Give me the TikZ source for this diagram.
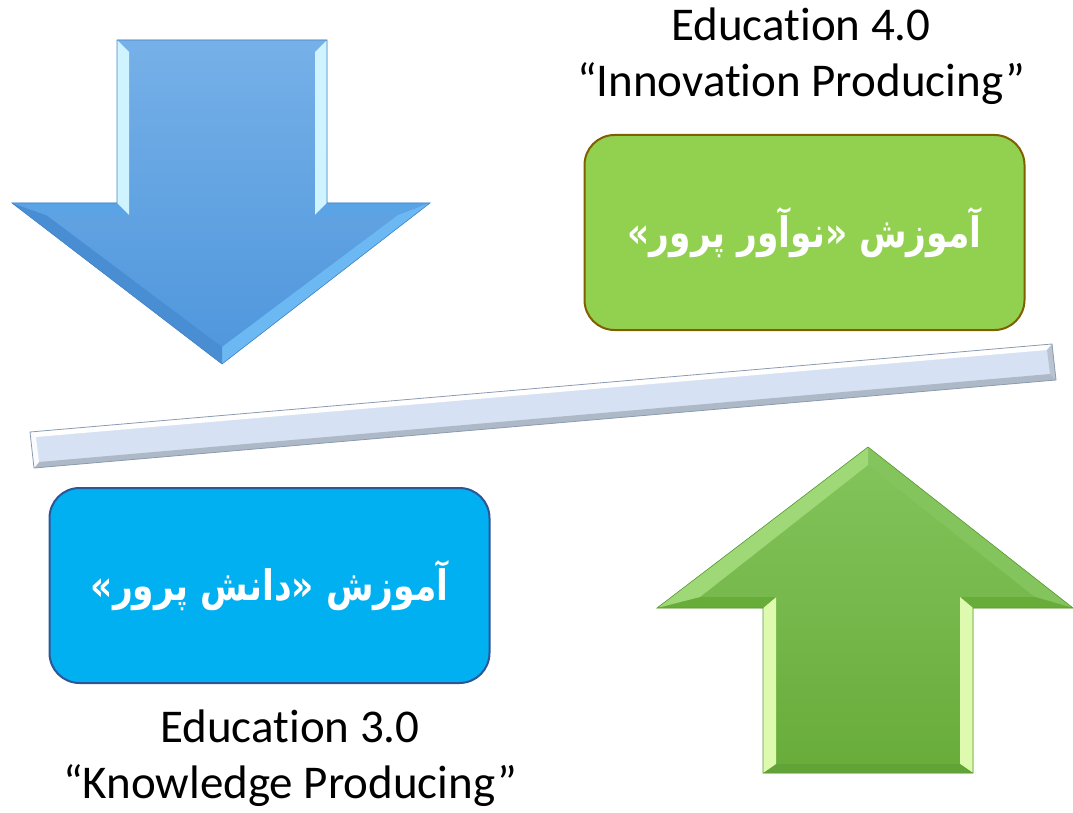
\documentclass[tikz,border=0pt]{standalone}
\usepackage{fontspec}
\setmainfont{Carlito}[Ligatures=NoCommon]
\newfontfamily\arabicfont[Script=Arabic,FakeStretch=0.82]{DejaVu Sans}
\TeXXeTstate=1

\definecolor{innogreen}{HTML}{92D050}
\definecolor{innoborder}{HTML}{7F6000}
\definecolor{knowblue}{HTML}{00B0F0}
\definecolor{knowborder}{HTML}{2F5597}
\definecolor{blueTop}{HTML}{76B0E8}
\definecolor{blueBot}{HTML}{4E96DC}
\definecolor{blueLite}{HTML}{CFF4FF}
\definecolor{blueMid}{HTML}{6CB8F2}
\definecolor{blueDark}{HTML}{4584C8}
\definecolor{greenTop}{HTML}{84C45C}
\definecolor{greenBot}{HTML}{68AC3A}
\definecolor{greenLite}{HTML}{DDFAAE}
\definecolor{greenMid}{HTML}{9ED877}
\definecolor{greenDark}{HTML}{5C9A34}
\definecolor{barFill}{HTML}{D6E2F3}
\definecolor{barEdge}{HTML}{8C9BB0}

\tikzstyle{stage}=[rounded corners=30pt,minimum width=440pt,minimum height=195pt,line width=2pt,text=white,font=\arabicfont\bfseries\fontsize{42}{50}\selectfont]
\tikzstyle{caption}=[align=center,anchor=north,inner sep=0pt,font=\fontsize{47}{56}\selectfont]

\begin{document}
\begin{tikzpicture}[x=1pt,y=-1pt]
    \useasboundingbox (0,0) rectangle (1073,813);
    % down arrow, outer and bevel points
    \coordinate (a1) at (117,40);  \coordinate (b1) at (129,52);
    \coordinate (a2) at (327,40);  \coordinate (b2) at (315,52);
    \coordinate (a3) at (327,203); \coordinate (b3) at (315,215);
    \coordinate (a4) at (430,203); \coordinate (b4) at (398,215);
    \coordinate (a5) at (222,364); \coordinate (b5) at (222,347);
    \coordinate (a6) at (12,203);  \coordinate (b6) at (46,215);
    \coordinate (a7) at (117,203); \coordinate (b7) at (129,215);
    \shade[top color=blueTop,bottom color=blueBot] (a1) -- (a2) -- (a3) -- (a4) -- (a5) -- (a6) -- (a7) -- cycle;
    \foreach \i/\j/\c in {1/2/blueTop, 2/3/blueLite, 3/4/blueMid!40!blueBot, 4/5/blueMid, 5/6/blueDark!50!blueBot, 6/7/blueMid!40!blueBot, 7/1/blueLite}
        \fill[\c] (a\i) -- (a\j) -- (b\j) -- (b\i) -- cycle;
    \draw[blueDark,line width=0.6pt] (a1) -- (a2) -- (a3) -- (a4) -- (a5) -- (a6) -- (a7) -- cycle;

    % up arrow
    \coordinate (c1) at (868,447);  \coordinate (d1) at (868,465);
    \coordinate (c2) at (1073,608); \coordinate (d2) at (1035,597);
    \coordinate (c3) at (973,608);  \coordinate (d3) at (960,597);
    \coordinate (c4) at (973,773);  \coordinate (d4) at (960,764);
    \coordinate (c5) at (763,773);  \coordinate (d5) at (776,764);
    \coordinate (c6) at (763,608);  \coordinate (d6) at (776,597);
    \coordinate (c7) at (657,608);  \coordinate (d7) at (700,597);
    \shade[top color=greenTop,bottom color=greenBot] (c1) -- (c2) -- (c3) -- (c4) -- (c5) -- (c6) -- (c7) -- cycle;
    \foreach \i/\j/\c in {1/2/greenTop, 2/3/greenBot, 3/4/greenLite, 4/5/greenDark!50!greenBot, 5/6/greenLite, 6/7/greenBot, 7/1/greenMid}
        \fill[\c] (c\i) -- (c\j) -- (d\j) -- (d\i) -- cycle;
    \draw[greenDark,line width=0.6pt] (c1) -- (c2) -- (c3) -- (c4) -- (c5) -- (c6) -- (c7) -- cycle;

    % tilted bar
    \coordinate (e1) at (30,432);   \coordinate (f1) at (36,437);
    \coordinate (e2) at (1052,344); \coordinate (f2) at (1047,350);
    \coordinate (e3) at (1056,380); \coordinate (f3) at (1050,374);
    \coordinate (e4) at (34,468);   \coordinate (f4) at (39,462);
    \fill[barFill] (e1) -- (e2) -- (e3) -- (e4) -- cycle;
    \foreach \i/\j/\c in {1/2/white, 2/3/barEdge!60, 3/4/barEdge!70, 4/1/white!85!barFill}
        \fill[\c] (e\i) -- (e\j) -- (f\j) -- (f\i) -- cycle;
    \draw[barEdge,line width=0.8pt] (e1) -- (e2) -- (e3) -- (e4) -- cycle;

    % the two stages
    \node[stage,fill=innogreen,draw=innoborder] (innobox) at (804.5,232.5) {\beginR آموزش «نوآور پرور»\endR};
    \node[stage,fill=knowblue,draw=knowborder] (knowbox) at (269.5,585.5) {\beginR آموزش «دانش پرور»\endR};

    % captions
    \node[caption] (innolbl) at (801,8) {Education 4.0\\“Innovation Producing”};
    \node[caption] (knowlbl) at (290,710) {Education 3.0\\“Knowledge Producing”};
\end{tikzpicture}
\end{document}
